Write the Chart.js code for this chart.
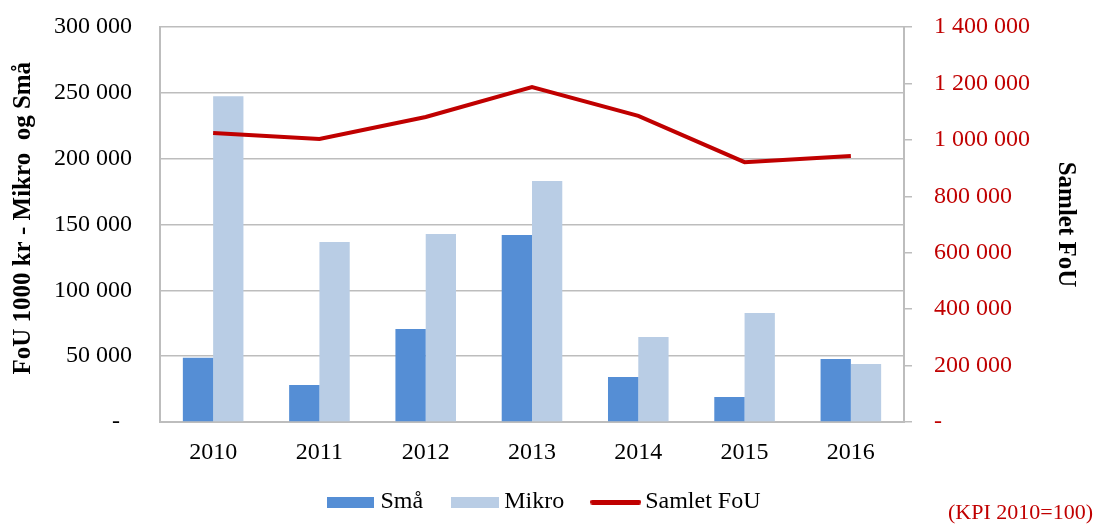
<!DOCTYPE html>
<html>
<head>
<meta charset="utf-8">
<script src="https://cdn.jsdelivr.net/npm/chart.js@4/dist/chart.umd.min.js"></script>
<style>
  html, body { margin: 0; padding: 0; background: #fff; }
  #wrap { position: relative; width: 1098px; height: 527px; }
  #kpi { position: absolute; right: 5px; top: 499px; font: 22px "Liberation Serif", serif; color: #C00000; white-space: nowrap; }
</style>
</head>
<body>
<div id="wrap">
  <canvas id="c" width="1098" height="527"></canvas>
  <div id="kpi">(KPI 2010=100)</div>
</div>
<script>
const categories = ['2010', '2011', '2012', '2013', '2014', '2015', '2016'];
const smaValues = [48800, 28100, 70600, 142000, 34200, 19000, 47800];
const mikroValues = [247400, 136700, 142800, 183000, 64600, 82800, 44000];
const samletValues = [1024000, 1003000, 1081000, 1187000, 1085000, 921000, 943000];
const seriesNames = ['Små', 'Mikro', 'Samlet FoU'];
const leftTitle = 'FoU 1000 kr - Mikro  og Små';
const rightTitle = 'Samlet FoU';

const FONT = "'Liberation Serif', 'Times New Roman', serif";
const GRID = '#BDBDBD';
const RED = '#C00000';
const colors = ['#558ED5', '#B9CDE5', RED];

function fmt(v) {
  if (v === 0) return '-  ';
  return String(v).replace(/\B(?=(\d{3})+(?!\d))/g, ' ');
}
function fmtR(v) {
  const s = v === 0 ? '-' : String(v).replace(/\B(?=(\d{3})+(?!\d))/g, ' ');
  return '   ' + s;
}

function swatch(w, h, color, round) {
  const c = document.createElement('canvas');
  c.width = w; c.height = h;
  const x = c.getContext('2d');
  x.fillStyle = color;
  if (round) {
    x.beginPath();
    x.moveTo(h / 2, 0); x.lineTo(w - h / 2, 0); x.arc(w - h / 2, h / 2, h / 2, -Math.PI / 2, Math.PI / 2);
    x.lineTo(h / 2, h); x.arc(h / 2, h / 2, h / 2, Math.PI / 2, Math.PI * 1.5); x.fill();
  } else {
    x.fillRect(0, 0, w, h);
  }
  return c;
}
const legendIcons = [swatch(47, 11, colors[0]), swatch(48, 11, colors[1]), swatch(51, 5, colors[2], true)];

const legendShift = {
  id: 'legendShift',
  afterLayout(chart) {
    const lg = chart.legend;
    if (!lg) return;
    const targetCenter = 502;
    const current = lg.top + 34 + 12;
    const d = targetCenter - current;
    lg.top += d; lg.bottom += d;
    lg.left -= 2; lg.right -= 2;
  }
};

new Chart(document.getElementById('c'), {
  data: {
    labels: categories,
    datasets: [
      { type: 'line', label: seriesNames[2], data: samletValues, yAxisID: 'y1',
        borderColor: RED, backgroundColor: RED, borderWidth: 4, pointRadius: 0, tension: 0, order: 0 },
      { type: 'bar', label: seriesNames[0], data: smaValues, yAxisID: 'y',
        backgroundColor: colors[0], categoryPercentage: 0.57, barPercentage: 1.0, order: 1 },
      { type: 'bar', label: seriesNames[1], data: mikroValues, yAxisID: 'y',
        backgroundColor: colors[1], categoryPercentage: 0.57, barPercentage: 1.0, order: 1 }
    ]
  },
  options: {
    responsive: false,
    animation: false,
    layout: { padding: { top: 27, left: 0, right: 0, bottom: 0 } },
    plugins: {
      tooltip: { enabled: false },
      legend: {
        position: 'bottom',
        maxHeight: 56,
        labels: {
          font: { family: FONT, size: 24 },
          color: '#000',
          usePointStyle: true,
          pointStyleWidth: 35,
          boxHeight: 11,
          padding: 34,
          generateLabels(chart) {
            const order = [1, 2, 0];
            return order.map((di, k) => ({
              text: chart.data.datasets[di].label,
              fillStyle: colors[k],
              strokeStyle: colors[k],
              lineWidth: 0,
              hidden: false,
              datasetIndex: di,
              pointStyle: legendIcons[k],
              fontColor: '#000'
            }));
          }
        }
      }
    },
    scales: {
      x: {
        grid: { display: true, drawOnChartArea: false, drawTicks: false },
        border: { display: true, color: GRID, width: 2 },
        ticks: { font: { family: FONT, size: 24 }, color: '#000', padding: 16 },
        afterFit(s) { s.height = 49; }
      },
      y: {
        position: 'left',
        min: 0, max: 300000,
        ticks: { stepSize: 50000, callback: fmt, font: { family: FONT, size: 24 }, color: '#000', padding: 0 },
        grid: { color: GRID, lineWidth: 1.5, drawTicks: true, tickLength: 28, tickColor: 'rgba(0,0,0,0)' },
        border: { display: true, color: GRID, width: 2 },
        title: { display: true, text: '  ' + leftTitle, font: { family: FONT, size: 25, weight: 'bold' }, color: '#000', padding: { top: 9, bottom: 0 } },
        afterFit(s) { s.width = 160; }
      },
      y1: {
        position: 'right',
        min: 0, max: 1400000,
        ticks: { stepSize: 200000, callback: fmtR, font: { family: FONT, size: 24 }, color: RED, padding: 4 },
        grid: { drawOnChartArea: false, drawTicks: true, tickLength: 8, color: GRID, lineWidth: 1.5 },
        border: { display: true, color: GRID, width: 2 },
        title: { display: true, text: rightTitle, font: { family: FONT, size: 25, weight: 'bold' }, color: '#000', padding: { top: 18, bottom: 0 } },
        afterFit(s) { s.width = 194; }
      }
    }
  },
  plugins: [legendShift]
});
</script>
</body>
</html>
